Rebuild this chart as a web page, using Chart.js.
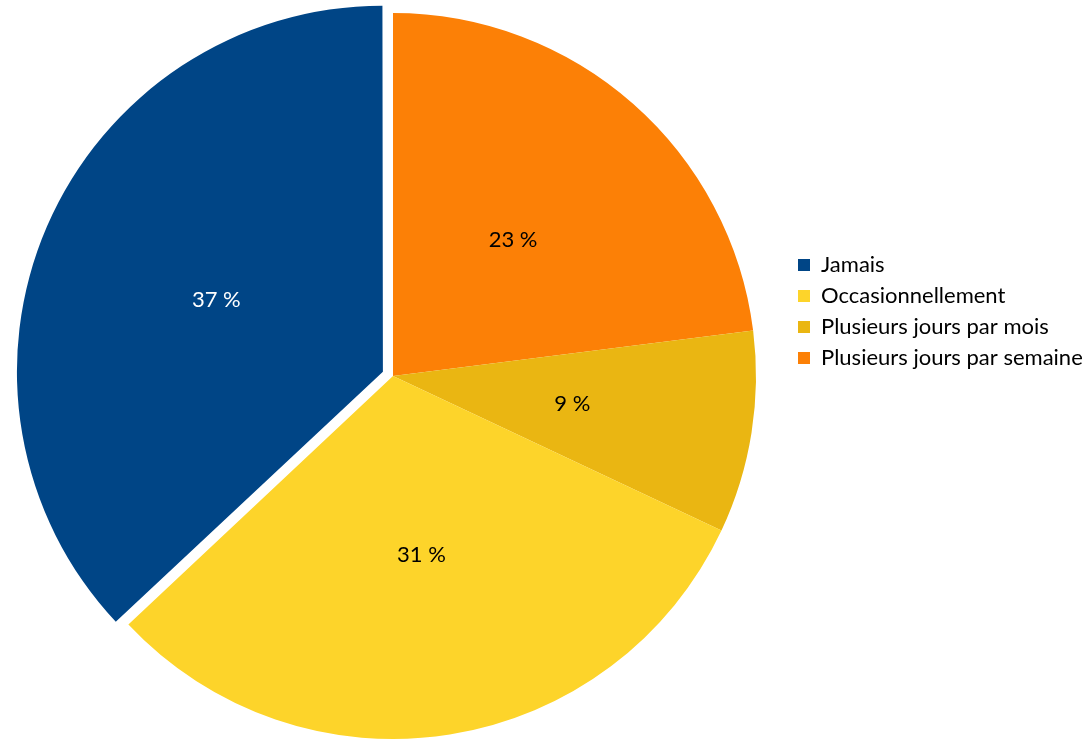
<!DOCTYPE html>
<html>
<head>
<meta charset="utf-8">
<script src="https://cdn.jsdelivr.net/npm/chart.js@4"></script>
<style>
  html, body { margin: 0; padding: 0; background: #fff; }
  canvas { display: block; }
</style>
</head>
<body>
<canvas id="grafico" width="1089" height="742"></canvas>
<script>
// données (ordre de la légende)
const categories = ['Jamais', 'Occasionnellement', 'Plusieurs jours par mois', 'Plusieurs jours par semaine'];
const valeurs = [37, 31, 9, 23];
const couleurs = ['#004586', '#FDD42A', '#EAB612', '#FC8006'];
const couleursTexte = ['#ffffff', '#000000', '#000000', '#000000'];
const decalage = [44, 0, 0, 0]; // seule la part "Jamais" est détachée

const police = 'Lato';
const taille = 22;

// le graphique tourne dans le sens horaire depuis le haut : on inverse l'ordre
const labelsG = categories.slice().reverse();
const dataG = valeurs.slice().reverse();
const fondG = couleurs.slice().reverse();
const texteG = couleursTexte.slice().reverse();
const offsetG = decalage.slice().reverse();

// largeur de la légende pour placer le centre du camembert
let mesure = document.createElement('canvas').getContext('2d');
mesure.font = taille + 'px ' + police;
let maxTexte = 0;
categories.forEach(c => { maxTexte = Math.max(maxTexte, mesure.measureText(c).width); });
const padLeg = 9;
const largeurLegende = padLeg + 12 + taille / 2 + maxTexte + 10;
const gauche = 789; // bord gauche de la légende
const padDroite = 1089 - gauche - largeurLegende;
const centreX = 393;

// recentrer le camembert (la zone du graphique peut déborder à gauche)
const recentrer = {
	id: 'recentrer',
	afterLayout(chart) {
		chart.chartArea.left = 2 * centreX - chart.chartArea.right;
		chart.chartArea.width = chart.chartArea.right - chart.chartArea.left;
	}
};

const etiquettes = {
	id: 'etiquettes',
	afterDatasetsDraw(chart) {
		const ctx = chart.ctx;
		const meta = chart.getDatasetMeta(0);
		ctx.save();
		ctx.font = taille + 'px ' + police;
		ctx.textAlign = 'center';
		ctx.textBaseline = 'middle';
		meta.data.forEach((arc, i) => {
			const p = arc.getProps(['x', 'y', 'startAngle', 'endAngle', 'outerRadius']);
			const mid = (p.startAngle + p.endAngle) / 2;
			const r = p.outerRadius / 2 + offsetG[i] / 4;
			ctx.fillStyle = texteG[i];
			ctx.fillText(dataG[i] + ' %', p.x + Math.cos(mid) * r, p.y + Math.sin(mid) * r);
		});
		ctx.restore();
	}
};

new Chart(document.getElementById('grafico').getContext('2d'), {
	type: 'pie',
	data: {
		labels: labelsG,
		datasets: [{
			data: dataG,
			backgroundColor: fondG,
			borderWidth: 0,
			offset: offsetG,
			radius: 363,
			clip: false
		}]
	},
	options: {
		responsive: false,
		animation: false,
		layout: { padding: { top: 10, bottom: 0, left: 0, right: padDroite } },
		plugins: {
			tooltip: { enabled: false },
			legend: {
				position: 'right',
				align: 'start',
				reverse: true,
				title: { display: true, text: ' ', font: { size: 10, lineHeight: 1 }, padding: { top: 225, bottom: 0 } },
				labels: {
					boxWidth: 12,
					boxHeight: 12,
					padding: padLeg,
					color: '#000000',
					font: { family: police, size: taille }
				}
			}
		}
	},
	plugins: [recentrer, etiquettes]
});
</script>
</body>
</html>
